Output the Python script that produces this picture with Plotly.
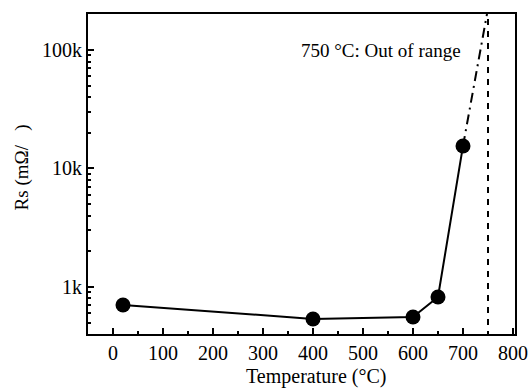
import plotly.graph_objects as go

temps = [20, 400, 600, 650, 700]
rs = [705, 537, 558, 824, 15500]
extrap_t = [700, 752]
extrap_rs = [15500, 250000]
limit_t = [750, 750]
limit_rs = [300, 300000]
ytick_vals = [1000, 10000, 100000]
ytick_text = ["1k", "10k", "100k"]
yminor_vals = [400, 500, 600, 700, 800, 900,
               2000, 3000, 4000, 5000, 6000, 7000, 8000, 9000,
               20000, 30000, 40000, 50000, 60000, 70000, 80000, 90000, 200000]
xtick_vals = [0, 100, 200, 300, 400, 500, 600, 700, 800]

font = "Liberation Serif"
fig = go.Figure()
fig.add_trace(go.Scatter(x=limit_t, y=limit_rs, mode="lines",
                         line=dict(color="black", width=2, dash="6px,6px"),
                         showlegend=False))
fig.add_trace(go.Scatter(x=extrap_t, y=extrap_rs, mode="lines",
                         line=dict(color="black", width=2, dash="10px,5px,2px,5px"),
                         showlegend=False))
fig.add_trace(go.Scatter(x=temps, y=rs, mode="lines+markers",
                         line=dict(color="black", width=2),
                         marker=dict(color="black", size=15),
                         showlegend=False))
fig.add_annotation(x=0.494, xref="paper", xanchor="left", y=5.0, yref="y",
                   text="750 °C: Out of range", showarrow=False,
                   font=dict(family=font, size=19, color="black"))
fig.add_annotation(x=0.534, xref="paper", xanchor="center", y=-0.134, yref="paper",
                   yanchor="middle", text="Temperature (°C)", showarrow=False,
                   font=dict(family=font, size=20, color="black"))
fig.add_annotation(x=-0.155, xref="paper", xanchor="center", y=0.52, yref="paper",
                   yanchor="middle", textangle=-90, text="Rs (mΩ/   )", showarrow=False,
                   font=dict(family=font, size=19, color="black"))
fig.update_layout(
    width=532, height=390,
    margin=dict(l=88, r=17, t=14, b=56),
    paper_bgcolor="white", plot_bgcolor="white",
    font=dict(family=font, size=20, color="black"),
)
fig.update_xaxes(range=[-50, 804], tickvals=xtick_vals, ticks="inside", ticklen=6,
                 tickwidth=2, tickcolor="black", automargin=False,
                 minor=dict(ticks="inside", ticklen=3, dtick=50, tick0=0, tickcolor="black", tickwidth=1.5),
                 showline=True, linewidth=2, linecolor="black", mirror=True,
                 showgrid=False, zeroline=False)
fig.update_yaxes(type="log", range=[2.603, 5.304], tickvals=ytick_vals, ticktext=ytick_text,
                 ticks="inside", ticklen=6, tickwidth=2, tickcolor="black", automargin=False,
                 minor=dict(ticks="inside", ticklen=3, tickmode="array", tickvals=yminor_vals,
                            tickcolor="black", tickwidth=1.5, showgrid=False),
                 showline=True, linewidth=2, linecolor="black", mirror=True,
                 showgrid=False, zeroline=False)
fig.write_html("out.html")
